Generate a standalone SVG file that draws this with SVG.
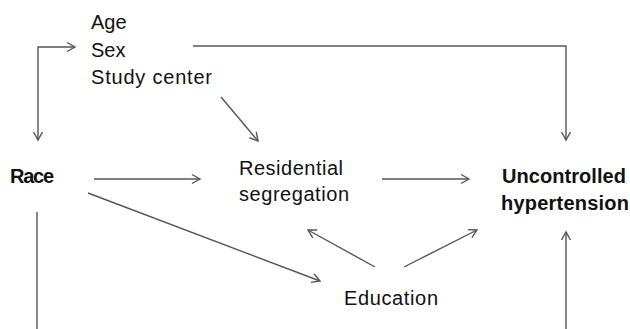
<svg xmlns="http://www.w3.org/2000/svg" width="630" height="329" viewBox="0 0 630 329">
<style>
text{font-family:"Liberation Sans",Arial,sans-serif;font-size:20px;fill:#111}
.b{font-weight:bold}
.c{fill:none;stroke:#555;stroke-width:1.4}
</style>
<defs>
<marker id="ah" markerUnits="userSpaceOnUse" markerWidth="12" markerHeight="12" refX="9" refY="5" orient="auto-start-reverse" viewBox="0 0 12 10">
<path d="M1,0.5 L9,5 L1,9.5" fill="none" stroke="#555" stroke-width="1.4"/>
</marker>
</defs>
<rect width="630" height="329" fill="#fff"/>
<g id="connectors">
<path class="c" d="M38,140 L38,47 L75,47" marker-start="url(#ah)" marker-end="url(#ah)"/>
<path class="c" d="M193,46 L566,46 L566,140" marker-end="url(#ah)"/>
<path class="c" d="M221,97 L258,141" marker-end="url(#ah)"/>
<path class="c" d="M94,179 L200,179" marker-end="url(#ah)"/>
<path class="c" d="M88,193 L320,281" marker-end="url(#ah)"/>
<path class="c" d="M37,212 L37,329"/>
<path class="c" d="M382,179 L469,179" marker-end="url(#ah)"/>
<path class="c" d="M375,267 L308,230" marker-end="url(#ah)"/>
<path class="c" d="M404,267 L477,230" marker-end="url(#ah)"/>
<path class="c" d="M566,329 L566,232" marker-end="url(#ah)"/>
</g>
<g id="confounders">
<text x="91" y="29">Age</text>
<text x="91" y="57">Sex</text>
<text x="91" y="84" textLength="121">Study center</text>
</g>
<g id="race"><text class="b" x="10" y="183" textLength="44">Race</text></g>
<g id="residential-segregation">
<text x="239" y="175" textLength="104">Residential</text>
<text x="239" y="201" textLength="110">segregation</text>
</g>
<g id="uncontrolled-hypertension">
<text class="b" x="502" y="183" textLength="124">Uncontrolled</text>
<text class="b" x="501" y="210" textLength="128">hypertension</text>
</g>
<g id="education"><text x="344" y="305" textLength="94">Education</text></g>
</svg>
